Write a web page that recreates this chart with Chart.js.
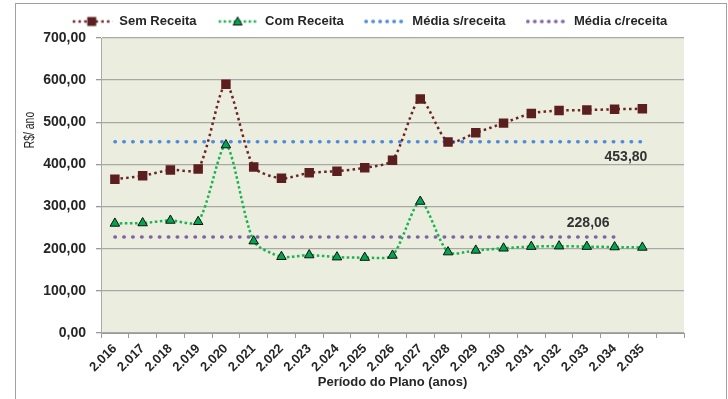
<!DOCTYPE html>
<html>
<head>
<meta charset="utf-8">
<script src="https://cdn.jsdelivr.net/npm/chart.js@4.4.0/dist/chart.umd.min.js"></script>
<style>
  html, body { margin: 0; padding: 0; background: #fff; }
  #wrap { position: relative; width: 728px; height: 399px; }
</style>
</head>
<body>
<div id="wrap"><canvas id="planChart" width="728" height="399"></canvas></div>
<script>
const anos = ['2.016', '2.017', '2.018', '2.019', '2.020', '2.021', '2.022', '2.023', '2.024', '2.025',
  '2.026', '2.027', '2.028', '2.029', '2.030', '2.031', '2.032', '2.033', '2.034', '2.035', ''];

const semReceita = [365, 373, 387, 389, 590, 394, 367, 380, 384, 392,
  410, 555, 453, 475, 498, 521, 528, 529, 531, 532];

const comReceita = [260, 261, 267, 264, 446, 218, 181, 185, 180, 179,
  184, 312, 192, 196, 201, 205, 206, 205, 204, 203];

const mediaSemReceita = [453.80, 453.80, 453.80, 453.80, 453.80, 453.80, 453.80, 453.80, 453.80, 453.80,
  453.80, 453.80, 453.80, 453.80, 453.80, 453.80, 453.80, 453.80, 453.80, 453.80];

const mediaComReceita = [228.06, 228.06, 228.06, 228.06, 228.06, 228.06, 228.06, 228.06, 228.06, 228.06,
  228.06, 228.06, 228.06, 228.06, 228.06, 228.06, 228.06, 228.06, 228.06];

const FONT = "'Liberation Sans', Arial, sans-serif";
const TEXT = '#262626';

const fmt = v => v.toFixed(2).replace('.', ',');

// small legend symbol: dotted line with the series marker in the middle
function legendSymbol(color, dash, lineWidth, cap, marker) {
  const c = document.createElement('canvas');
  c.width = 42;
  c.height = 14;
  const g = c.getContext('2d');
  g.strokeStyle = color;
  g.lineWidth = lineWidth;
  g.lineCap = cap;
  g.setLineDash(dash);
  g.beginPath();
  g.moveTo(2, 7);
  g.lineTo(42, 7);
  g.stroke();
  g.setLineDash([]);
  if (marker === 'rect') {
    g.fillStyle = '#5C1F1F';
    g.fillRect(16.5, 2.5, 9, 9);
  } else if (marker === 'triangle') {
    g.fillStyle = '#00A54F';
    g.strokeStyle = '#111';
    g.lineWidth = 1;
    g.beginPath();
    g.moveTo(21, 2.5);
    g.lineTo(25.5, 10.5);
    g.lineTo(16.5, 10.5);
    g.closePath();
    g.fill();
    g.stroke();
  }
  return c;
}

const symbols = [
  legendSymbol('#6B2525', [2.5, 3.2], 2.5, 'butt', 'rect'),
  legendSymbol('#19B44F', [2.5, 2.5], 2.5, 'butt', 'triangle'),
  legendSymbol('#4F8ADB', [0.5, 6.5], 3.5, 'round', null),
  legendSymbol('#8063A6', [0.5, 6.5], 3.5, 'round', null)
];

// page frame, plot background, legend offset and y axis title
const framePlugin = {
  id: 'frame',
  afterLayout(chart) {
    // legend row sits a bit right of the layout centre
    chart.legend.left += 27;
    chart.legend.right += 27;
  },
  beforeDraw(chart) {
    const { ctx, chartArea } = chart;
    ctx.save();
    ctx.fillStyle = '#fff';
    ctx.fillRect(0, 0, chart.width, chart.height);
    ctx.strokeStyle = '#A0A0A0';
    ctx.lineWidth = 1;
    ctx.strokeRect(15.5, 3.5, 711, 420);
    ctx.fillStyle = '#EBEEDE';
    ctx.fillRect(chartArea.left, chartArea.top, chartArea.right - chartArea.left, chartArea.bottom - chartArea.top);
    ctx.restore();
  },
  afterDraw(chart) {
    const ctx = chart.ctx;
    ctx.save();
    ctx.translate(30, 130);
    ctx.rotate(-Math.PI / 2);
    ctx.scale(0.74, 1);
    ctx.font = '14px ' + FONT;
    ctx.fillStyle = TEXT;
    ctx.textAlign = 'center';
    ctx.textBaseline = 'middle';
    ctx.fillText('R$/ ano', 0, 0);
    ctx.restore();
  }
};

// value label next to the last point of the average lines
const valueLabelPlugin = {
  id: 'valueLabel',
  afterDatasetsDraw(chart) {
    const ctx = chart.ctx;
    chart.data.datasets.forEach((ds, i) => {
      if (!ds.valueLabel) return;
      const pts = chart.getDatasetMeta(i).data;
      const last = pts[pts.length - 1];
      const value = ds.data[ds.data.length - 1];
      ctx.save();
      ctx.font = 'bold 14px ' + FONT;
      ctx.fillStyle = '#333';
      ctx.textAlign = 'right';
      ctx.textBaseline = 'middle';
      ctx.fillText(fmt(value), last.x + ds.valueLabel.dx, last.y + ds.valueLabel.dy);
      ctx.restore();
    });
  }
};

new Chart(document.getElementById('planChart'), {
  type: 'line',
  data: {
    labels: anos,
    datasets: [
      {
        label: 'Sem Receita',
        data: semReceita,
        borderColor: '#6B2525',
        borderWidth: 2.5,
        borderDash: [2.5, 3.2],
        tension: 0.25,
        pointStyle: 'rect',
        pointRadius: 6.7,
        pointBackgroundColor: '#5C1F1F',
        pointBorderWidth: 0,
        order: 1
      },
      {
        label: 'Com Receita',
        data: comReceita,
        borderColor: '#19B44F',
        borderWidth: 2.5,
        borderDash: [2.5, 2.5],
        tension: 0.25,
        pointStyle: 'triangle',
        pointRadius: 5.5,
        pointBackgroundColor: '#00A54F',
        pointBorderColor: '#111',
        pointBorderWidth: 1,
        order: 2
      },
      {
        label: 'Média s/receita',
        data: mediaSemReceita,
        borderColor: '#4F8ADB',
        borderWidth: 3.5,
        borderDash: [0.5, 8.4],
        borderCapStyle: 'round',
        pointRadius: 0,
        valueLabel: { dx: 5, dy: 15 },
        order: 3
      },
      {
        label: 'Média c/receita',
        data: mediaComReceita,
        borderColor: '#8063A6',
        borderWidth: 3.5,
        borderDash: [0.5, 8.4],
        borderCapStyle: 'round',
        pointRadius: 0,
        valueLabel: { dx: -5, dy: -14 },
        order: 4
      }
    ]
  },
  options: {
    responsive: false,
    animation: false,
    devicePixelRatio: 1,
    layout: {
      padding: { left: 0, right: 44, top: -5, bottom: 0 }
    },
    plugins: {
      legend: {
        position: 'top',
        labels: {
          usePointStyle: true,
          pointStyleWidth: 42,
          padding: 20,
          color: TEXT,
          font: { family: FONT, size: 13, weight: 'bold' },
          generateLabels(chart) {
            const items = Chart.defaults.plugins.legend.labels.generateLabels(chart);
            items.forEach((item, i) => { item.pointStyle = symbols[i]; });
            return items;
          }
        }
      },
      tooltip: { enabled: false }
    },
    scales: {
      x: {
        offset: true,
        grid: {
          display: true,
          offset: true,
          drawOnChartArea: false,
          tickLength: 5,
          color: '#999'
        },
        border: { color: '#999', width: 1 },
        ticks: {
          autoSkip: false,
          maxRotation: 45,
          minRotation: 45,
          padding: 3,
          color: TEXT,
          font: { family: FONT, size: 13, weight: 'bold' }
        },
        title: {
          display: true,
          text: 'Período do Plano (anos)',
          color: TEXT,
          padding: { top: 0, bottom: 9 },
          font: { family: FONT, size: 13, weight: 'bold' }
        },
        afterFit(scale) { scale.height = 66; }
      },
      y: {
        min: 0,
        max: 700,
        ticks: {
          stepSize: 100,
          padding: 10,
          color: TEXT,
          font: { family: FONT, size: 14, weight: 'bold' },
          callback: v => fmt(v)
        },
        grid: {
          color: '#A8A8A8',
          lineWidth: 1.3,
          tickLength: 5,
          tickColor: '#999'
        },
        border: { color: '#AAA', width: 1 },
        afterFit(scale) { scale.width = 101; }
      }
    }
  },
  plugins: [framePlugin, valueLabelPlugin]
});
</script>
</body>
</html>
